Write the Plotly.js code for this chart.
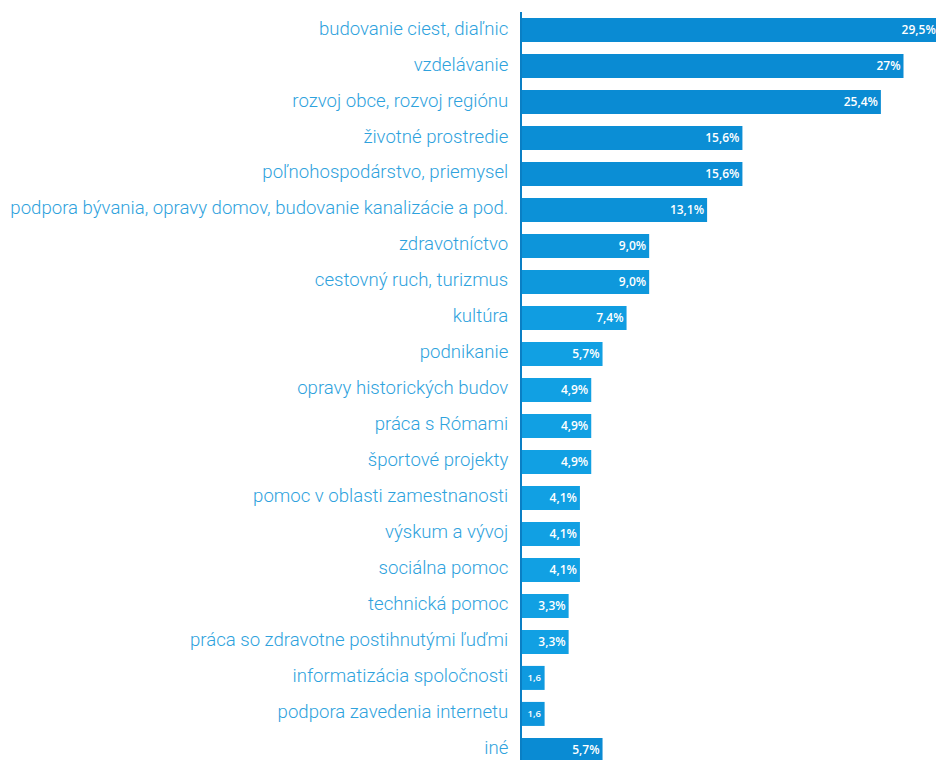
<!DOCTYPE html>
<html>
<head>
<meta charset="utf-8">
<script src="https://cdn.plot.ly/plotly-3.0.1.min.js"></script>
<style>html,body{margin:0;padding:0;background:#fff;}#chart{width:936px;height:760px;}</style>
</head>
<body>
<div id="chart"></div>
<script>
const categories = [
  "budovanie ciest, diaľnic",
  "vzdelávanie",
  "rozvoj obce, rozvoj regiónu",
  "životné prostredie",
  "poľnohospodárstvo, priemysel",
  "podpora bývania, opravy domov, budovanie kanalizácie a pod.",
  "zdravotníctvo",
  "cestovný ruch, turizmus",
  "kultúra",
  "podnikanie",
  "opravy historických budov",
  "práca s Rómami",
  "športové projekty",
  "pomoc v oblasti zamestnanosti",
  "výskum a vývoj",
  "sociálna pomoc",
  "technická pomoc",
  "práca so zdravotne postihnutými ľuďmi",
  "informatizácia spoločnosti",
  "podpora zavedenia internetu",
  "iné"
];
const values = [29.5, 27, 25.4, 15.6, 15.6, 13.1, 9.0, 9.0, 7.4, 5.7, 4.9, 4.9, 4.9, 4.1, 4.1, 4.1, 3.3, 3.3, 1.6, 1.6, 5.7];
const valueLabels = ["29,5%", "27%", "25,4%", "15,6%", "15,6%", "13,1%", "9,0%", "9,0%", "7,4%", "5,7%", "4,9%", "4,9%", "4,9%", "4,1%", "4,1%", "4,1%", "3,3%", "3,3%", "1,6", "1,6", "5,7%"];
const barColors = ["#0a8bd3", "#0a8bd3", "#0a8bd3", "#0b8ed5", "#0b8ed5", "#0c91d7", "#0d95da", "#0e98dc", "#109de1", "#11a0e3", "#11a0e3", "#11a0e3", "#11a0e3", "#11a0e3", "#11a0e3", "#11a0e3", "#11a0e3", "#11a0e3", "#0f9ae0", "#0e96dc", "#0a8bd3"];
const textSizes = values.map(v => v < 2 ? 9.5 : 12);

const trace = {
  type: 'bar',
  orientation: 'h',
  x: values,
  y: categories,
  text: valueLabels,
  textposition: 'inside',
  insidetextanchor: 'end',
  textangle: 0,
  constraintext: 'none',
  cliponaxis: true,
  textfont: {family: 'Open Sans, DejaVu Sans, sans-serif', size: textSizes, color: '#ffffff', weight: 600},
  marker: {color: barColors, line: {width: 0}},
  hoverinfo: 'none'
};

const layout = {
  width: 936,
  height: 760,
  margin: {l: 522, r: 0, t: 12, b: 0, pad: 0},
  paper_bgcolor: '#ffffff',
  plot_bgcolor: '#ffffff',
  bargap: 0.333,
  showlegend: false,
  xaxis: {
    range: [0, 29.3],
    visible: false,
    showgrid: false,
    zeroline: false,
    fixedrange: true
  },
  yaxis: {
    type: 'category',
    range: [20.28, -0.5],
    autorange: false,
    showgrid: false,
    zeroline: false,
    showline: true,
    linecolor: '#0a7fc4',
    linewidth: 2,
    ticks: '',
    ticklabelstandoff: 8,
    ticklabelshift: 2,
    tickfont: {family: 'Roboto, sans-serif', size: 18.6, color: '#2ea2dd', weight: 300},
    fixedrange: true
  }
};

Plotly.newPlot('chart', [trace], layout, {displayModeBar: false, staticPlot: true});
</script>
</body>
</html>
